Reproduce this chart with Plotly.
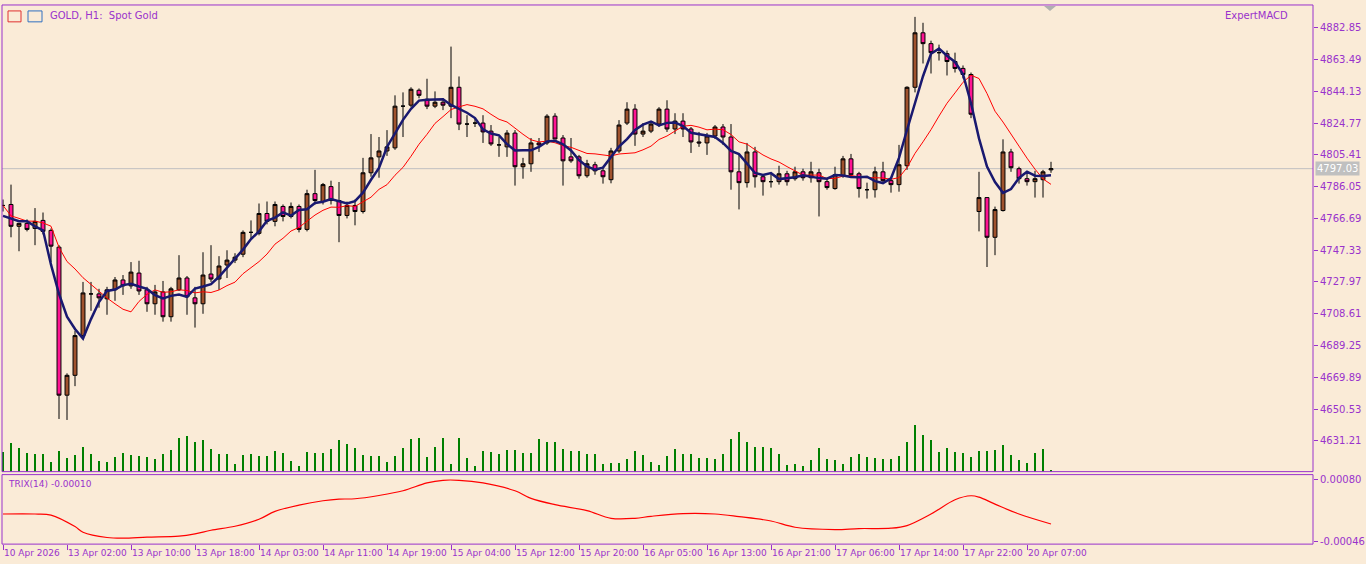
import plotly.graph_objects as go
import pandas as pd

W, H = 1366, 564

opens = [4774.6,4775.2,4761.9,4763.7,4760.6,4765.5,4759.4,4749.2,4659.0,4671.1,4695.3,4720.7,4720.7,4717.7,4723.2,4729.2,4725.6,4733.4,4723.2,4714.7,
         4721.9,4706.8,4723.2,4730.4,4718.3,4714.7,4732.8,4729.8,4738.3,4741.3,4744.9,4758.2,4757.6,4769.7,4764.9,4774.0,4767.9,4774.0,4760.0,4781.8,
         4777.0,4786.1,4777.6,4768.5,4774.6,4770.9,4794.5,4804.2,4807.8,4809.7,4835.1,4835.7,4844.8,4839.3,4835.1,4837.5,4835.1,4846.6,4824.2,4824.8,
         4824.8,4819.9,4811.5,4810.3,4818.7,4798.2,4800.0,4812.7,4812.7,4829.0,4815.7,4804.2,4804.2,4792.7,4799.4,4795.7,4790.3,4807.8,4824.8,4833.3,
         4818.1,4819.9,4824.2,4833.3,4821.2,4826.0,4821.2,4813.3,4812.7,4816.9,4822.4,4816.3,4795.1,4788.5,4807.2,4792.1,4789.1,4789.1,4793.9,4790.9,
         4795.1,4791.5,4794.5,4789.1,4784.9,4792.7,4803.0,4793.9,4784.2,4784.2,4795.1,4789.7,4787.3,4798.8,4846.6,4879.8,4873.2,4867.7,4867.1,4862.3,
         4858.1,4854.4,4770.9,4779.4,4755.2,4771.5,4807.2,4797.0,4790.9,4789.1,4790.3,4796.3]
highs = [4778.2,4787.3,4763.7,4766.1,4773.0,4770.3,4760.6,4750.4,4672.3,4698.3,4728.0,4728.0,4723.8,4725.0,4731.0,4732.2,4740.1,4740.9,4725.0,4726.2,
         4728.6,4725.0,4744.3,4731.6,4725.0,4746.1,4750.4,4743.7,4747.3,4745.5,4759.4,4765.5,4775.8,4777.0,4777.0,4775.2,4776.4,4775.2,4784.2,4796.3,
         4788.3,4789.7,4788.9,4777.0,4778.2,4803.6,4818.1,4816.3,4820.5,4841.7,4843.5,4846.6,4845.9,4851.8,4844.1,4839.9,4871.4,4853.2,4829.6,4827.8,
         4829.6,4823.6,4816.3,4820.5,4820.5,4803.6,4815.7,4815.7,4830.2,4830.8,4817.5,4815.7,4805.4,4802.4,4801.2,4797.6,4809.7,4826.6,4837.5,4836.3,
         4824.8,4825.4,4834.5,4838.7,4830.8,4830.8,4822.4,4819.4,4818.8,4823.6,4824.2,4824.2,4805.4,4812.7,4810.3,4793.3,4794.5,4798.8,4795.7,4798.2,
         4797.0,4801.2,4797.0,4791.5,4798.2,4804.8,4806.0,4795.1,4788.5,4798.2,4801.2,4791.5,4811.5,4847.2,4889.5,4885.9,4875.0,4872.6,4869.0,4867.7,
         4859.9,4855.6,4795.1,4779.4,4773.9,4814.9,4809.1,4798.2,4795.1,4795.7,4796.3,4801.2]
lows = [4770.9,4755.2,4746.7,4758.8,4750.4,4757.0,4740.1,4644.5,4643.9,4664.5,4693.5,4710.4,4712.3,4708.0,4716.5,4720.1,4723.8,4720.1,4709.8,4708.0,
        4703.8,4703.8,4722.5,4708.0,4700.2,4708.6,4728.0,4723.2,4730.4,4739.5,4743.1,4754.0,4756.4,4763.1,4761.9,4764.9,4766.7,4758.2,4758.8,4775.2,
        4775.2,4775.2,4752.2,4766.7,4762.5,4769.7,4792.1,4791.5,4804.8,4808.5,4816.3,4834.5,4839.9,4833.3,4833.9,4832.7,4827.8,4820.5,4816.3,4822.4,
        4812.7,4810.9,4804.2,4804.2,4786.7,4790.9,4795.1,4807.2,4811.5,4815.1,4786.7,4800.6,4790.9,4791.5,4793.3,4787.9,4788.1,4806.6,4823.6,4810.9,
        4816.3,4818.7,4822.4,4819.4,4818.1,4816.3,4806.6,4810.3,4805.4,4815.1,4811.5,4784.2,4772.2,4785.5,4785.5,4780.6,4785.5,4787.3,4786.7,4789.7,
        4789.7,4788.5,4767.9,4784.2,4784.2,4791.5,4792.1,4779.4,4778.8,4779.4,4787.9,4782.4,4783.0,4796.3,4843.5,4861.1,4855.0,4862.9,4853.8,4855.6,
        4852.0,4827.8,4758.8,4737.1,4744.3,4770.9,4795.1,4787.9,4786.7,4779.4,4779.4,4794.5]
closes = [4774.6,4761.9,4763.7,4760.0,4764.9,4758.8,4749.8,4659.0,4671.1,4695.3,4721.3,4720.7,4718.3,4723.2,4729.2,4725.6,4734.0,4722.5,4714.7,4721.9,
          4706.8,4723.8,4730.4,4718.9,4714.7,4732.2,4729.8,4737.7,4741.3,4743.1,4758.2,4758.2,4769.7,4764.9,4775.2,4767.9,4774.0,4760.0,4781.8,4777.6,
          4787.3,4777.6,4768.5,4774.6,4770.9,4794.5,4803.6,4807.8,4810.3,4835.1,4835.1,4845.4,4841.7,4835.1,4837.5,4835.7,4846.6,4824.2,4824.2,4824.8,
          4819.4,4812.1,4811.5,4818.7,4798.2,4800.0,4812.7,4811.5,4829.0,4815.1,4801.8,4801.8,4792.7,4800.0,4795.7,4792.1,4807.8,4823.6,4833.3,4818.1,
          4819.9,4824.2,4833.3,4821.2,4826.0,4821.2,4813.3,4812.7,4816.9,4822.4,4816.3,4795.1,4788.5,4807.2,4792.1,4789.1,4789.1,4793.9,4789.1,4795.1,
          4791.5,4795.1,4789.1,4785.5,4793.3,4803.0,4793.3,4784.9,4784.2,4795.1,4789.7,4787.3,4799.4,4846.6,4879.8,4873.2,4867.7,4867.7,4862.3,4858.1,
          4854.4,4830.2,4779.4,4755.2,4772.1,4807.2,4797.6,4790.9,4789.1,4790.9,4795.1,4797.03]
volumes = [60,87,72,57,54,54,30,63,42,51,75,54,33,30,45,57,51,48,45,39,
           54,66,102,108,90,96,69,54,54,24,51,54,48,48,63,57,33,18,60,57,
           57,69,96,84,72,51,48,48,30,48,72,99,102,45,75,102,24,102,42,18,
           63,60,54,66,66,57,57,99,90,90,69,63,63,54,
           54,24,27,27,39,63,51,30,21,48,69,54,54,42,42,39,54,99,120,90,75,75,72,54,21,24,18,36,72,39,36,24,45,54,45,42,39,39,
           48,90,141,111,96,60,72,60,57,45,63,63,66,81,51,36,27,57,69,6]

tick_bars = [1,9,17,25,33,41,49,57,65,73,81,89,97,105,113,121,129]
tick_labels = ["10 Apr 2026","13 Apr 02:00","13 Apr 10:00","13 Apr 18:00","14 Apr 03:00","14 Apr 11:00",
               "14 Apr 19:00","15 Apr 04:00","15 Apr 12:00","15 Apr 20:00","16 Apr 05:00","16 Apr 13:00",
               "16 Apr 21:00","17 Apr 06:00","17 Apr 14:00","17 Apr 22:00","20 Apr 07:00"]
price_ticks = [4882.85,4863.49,4844.13,4824.77,4805.41,4786.05,4766.69,4747.33,4727.97,4708.61,4689.25,4669.89,4650.53,4631.21]

trix_bars = [1,5,7,10,11,14,16,19,23,25,27,30,33,35,38,41,43,45,48,51,54,56,58,61,65,67,70,74,77,80,82,86,90,93,97,100,105,108,112,114,117,120,122,123,125,128,132]
trix_vals = [0.000102,0.000102,0.000081,-0.000153,-0.000267,-0.000374,-0.000388,-0.000368,-0.000347,-0.000301,-0.000227,-0.000146,
             -0.000005,0.000156,0.000283,0.000371,0.000404,0.000411,0.000478,0.000573,0.000733,0.000786,0.000786,0.000733,0.000573,
             0.000418,0.000291,0.00017,0.000015,0.000015,0.000055,0.00011,0.000102,0.000049,-0.000039,-0.000166,-0.000213,-0.000193,
             -0.000186,-0.000132,0.000102,0.000391,0.000472,0.000444,0.000303,0.000102,-0.0001]

n = len(closes)
bars = list(range(1, n + 1))
cs = pd.Series(closes)
blue = cs.rolling(5, min_periods=1).mean().shift(-1)
blue.iloc[-1] = cs.iloc[-4:].mean()
red = cs.rolling(10, min_periods=1).mean()

BG = "#FAEBD7"
PUR = "#9932CC"

def py(p):
    return 1 - p / H

def px(p):
    return p / W

x0, x1 = 2, 1313
xr = [1 + (x0 - 3) / 8, 1 + (x1 - 3) / 8]
fig = go.Figure()
fig.add_trace(go.Bar(x=bars, y=volumes, width=0.16, marker=dict(color="#008000", line=dict(width=0)),
                     xaxis="x", yaxis="y3", showlegend=False))
fig.add_trace(go.Candlestick(x=bars, open=opens, high=highs, low=lows, close=closes,
                             increasing=dict(fillcolor="#A0522D", line=dict(color="#000000", width=1)),
                             decreasing=dict(fillcolor="#FF1493", line=dict(color="#000000", width=1)),
                             whiskerwidth=0, xaxis="x", yaxis="y", showlegend=False))
fig.add_trace(go.Scatter(x=bars, y=red, mode="lines", line=dict(color="#FF0000", width=1), xaxis="x", yaxis="y", showlegend=False))
fig.add_trace(go.Scatter(x=bars, y=blue, mode="lines", line=dict(color="#191970", width=2.5), xaxis="x", yaxis="y", showlegend=False))
fig.add_trace(go.Scatter(x=trix_bars, y=trix_vals, mode="lines", line=dict(color="#FF0000", width=1.2, shape="spline"),
                         xaxis="x2", yaxis="y2", showlegend=False))

font = dict(family="DejaVu Sans", size=10, color=PUR)
pmain_top, pmain_bot = 5, 474
ptop = 4899.18 - 0.605 * pmain_top
pbot = 4899.18 - 0.605 * pmain_bot
sub_top, sub_bot = 477, 547
def tv(y):
    return 0.0008 - (y - 482) * 2.013e-5

fig.update_layout(
    width=W, height=H, margin=dict(l=0, r=0, t=0, b=0),
    paper_bgcolor=BG, plot_bgcolor=BG, font=font, bargap=0, hovermode=False,
    xaxis=dict(domain=[px(x0), px(x1)], range=xr, showgrid=False, zeroline=False, showticklabels=False,
               rangeslider=dict(visible=False), anchor="y"),
    xaxis2=dict(domain=[px(x0), px(x1)], range=xr, showgrid=False, zeroline=False, showticklabels=False,
                anchor="y2", tickvals=tick_bars, ticks="outside", ticklen=5, tickcolor=PUR),
    yaxis=dict(domain=[py(pmain_bot), py(pmain_top)], range=[pbot, ptop], side="right", showgrid=False,
               zeroline=False, tickvals=price_ticks, ticktext=[f"{v:.2f}" for v in price_ticks],
               ticks="outside", ticklen=4, tickcolor=PUR, tickfont=font, anchor="x"),
    yaxis3=dict(domain=[py(pmain_bot), py(pmain_top)], range=[0, 3 * (pmain_bot - pmain_top)], overlaying="y",
                visible=False, anchor="x"),
    yaxis2=dict(domain=[py(sub_bot), py(sub_top)], range=[tv(sub_bot), tv(sub_top)], side="right", showgrid=False,
                zeroline=False, tickvals=[0.0008, -0.00046], ticktext=["0.00080", "-0.00046"],
                ticks="outside", ticklen=4, tickcolor=PUR, tickfont=font, anchor="x2"),
)

shapes = []
line = dict(color=PUR, width=1)
shapes.append(dict(type="rect", xref="paper", yref="paper", x0=px(x0), x1=px(x1), y0=py(pmain_bot), y1=py(4), line=line))
shapes.append(dict(type="rect", xref="paper", yref="paper", x0=px(x0), x1=px(x1), y0=py(sub_bot), y1=py(sub_top), line=line))
shapes.append(dict(type="line", xref="paper", yref="y", x0=px(x0), x1=px(x1), y0=closes[-1], y1=closes[-1],
                   line=dict(color="#C0C0C0", width=1), layer="below"))
shapes.append(dict(type="rect", xref="paper", yref="paper", x0=px(8), x1=px(21), y0=py(21), y1=py(10),
                   line=dict(color="#E03030", width=1)))
shapes.append(dict(type="rect", xref="paper", yref="paper", x0=px(28), x1=px(42), y0=py(21), y1=py(10),
                   line=dict(color="#3070C0", width=1)))
shapes.append(dict(type="path", xref="paper", yref="paper",
                   path=f"M {px(1044)} {py(5)} L {px(1056)} {py(5)} L {px(1050)} {py(10)} Z",
                   fillcolor="#B0B0B0", line=dict(width=0)))
fig.update_layout(shapes=shapes)

ann = []
ann.append(dict(text="GOLD, H1:  Spot Gold", x=px(48), y=py(15), xref="paper", yref="paper",
                xanchor="left", yanchor="middle", showarrow=False, font=font))
ann.append(dict(text="ExpertMACD", x=px(1290), y=py(15), xref="paper", yref="paper",
                xanchor="right", yanchor="middle", showarrow=False, font=font))
ann.append(dict(text="TRIX(14) -0.00010", x=px(6), y=py(486), xref="paper", yref="paper",
                xanchor="left", yanchor="middle", showarrow=False, font=dict(family="DejaVu Sans", size=9, color=PUR)))
ann.append(dict(text=f"{closes[-1]:.2f}", x=px(1315), y=closes[-1], xref="paper", yref="y",
                xanchor="left", yanchor="middle", showarrow=False, bgcolor="#C0C0C0",
                font=dict(family="DejaVu Sans", size=10, color="#FFFFFF")))
for b, t in zip(tick_bars, tick_labels):
    ann.append(dict(text=t, x=b, xref="x2", y=py(556), yref="paper", xanchor="left", yanchor="middle",
                    showarrow=False, xshift=-1, font=dict(family="DejaVu Sans", size=9, color=PUR)))
fig.update_layout(annotations=ann)

fig.write_html("out.html", config={"displayModeBar": False},
               post_script="document.body.style.margin='0';document.body.style.overflow='hidden';")
